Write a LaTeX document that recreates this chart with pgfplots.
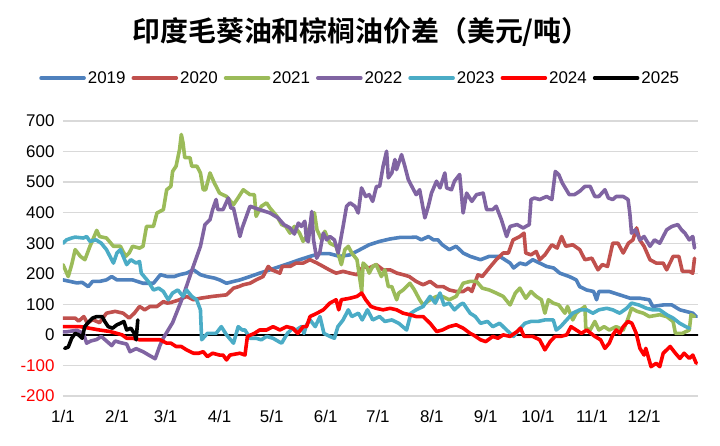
\documentclass[border=0pt]{standalone}
\usepackage{fontspec}
\setmainfont{Liberation Sans}
\newfontfamily\cjk{Noto Sans CJK SC}[BoldFont={Noto Sans CJK SC Bold}]
\usepackage{pgfplots}
\pgfplotsset{compat=1.18}
\definecolor{c19}{HTML}{4F81BD}
\definecolor{c20}{HTML}{C0504D}
\definecolor{c21}{HTML}{9BBB59}
\definecolor{c22}{HTML}{8064A2}
\definecolor{c23}{HTML}{4BACC6}
\definecolor{c24}{HTML}{FF0000}
\definecolor{c25}{HTML}{000000}
\definecolor{gridgray}{HTML}{D9D9D9}

\begin{document}
\begin{tikzpicture}
\path[use as bounding box] (-63bp,-50bp) rectangle (657bp,396bp);
\begin{axis}[
  at={(0,0)}, anchor=south west,
  scale only axis,
  width=635bp, height=275bp,
  xmin=0, xmax=365,
  ymin=-200, ymax=700,
  xtick={0,31,59,90,120,151,181,212,243,273,304,334},
  xticklabels={1/1,2/1,3/1,4/1,5/1,6/1,7/1,8/1,9/1,10/1,11/1,12/1},
  ytick={-200,-100,...,700},
  yticklabels={{\textcolor{red}{-200}},{\textcolor{red}{-100}},0,100,200,300,400,500,600,700},
  ymajorgrids=true,
  grid style={gridgray, line width=1.3bp},
  axis line style={draw=none},
  tick style={draw=none},
  tick label style={font=\fontsize{17}{20}\selectfont},
  xticklabel style={yshift=-11bp},
  yticklabel style={xshift=-5bp},
  legend columns=7,
  legend style={at={(0.468,1.156)}, anchor=center, draw=none, fill=none,
    font=\fontsize{17}{20}\selectfont,
    /tikz/every even column/.append style={column sep=4bp}},
  legend image code/.code={\draw[#1] (0bp,0bp) -- (43bp,0bp);},
  every axis plot/.append style={line width=3.6bp, line join=round, line cap=round},
]
\addplot[black, line width=1.5bp, forget plot] coordinates {(0,0) (365,0)};

% 2019
\addplot[c19] coordinates {
(0,180)(4,175)(8,170)(11,172)(14.5,158)(17,175)(21,175)(25,180)(28,191)(31,180)(34.6,180)(40,180)(46,169)(52,169)(56,197)(60,191)(64,191)(67,197)(71,202)(75,213)(79,197)(82.6,191)(87,186)(90,180)(94,169)(98,175)(101.7,180)(107.5,191)(113,202)(119,213)(124.7,224)(130.5,235)(136,246)(142,257)(147.7,266)(153,266)(159,257)(165,262)(170.7,279)(176,295)(182,306)(188,314)(193.7,319)(199,319)(203,320)(206,311)(210,322)(213,311)(215.5,311)(218,295)(222,279)(226,290)(230,268)(234,257)(240,246)(245,257)(251,257)(257,235)(259,219)(262.6,235)(266,230)(270,246)(274,235)(278,224)(282,219)(285.6,202)(291,191)(295,180)(297,158)(301,147)(305,142)(306.7,115)(308,142)(314,142)(320,131)(326,120)(331.6,120)(337,115)(339,93)(345,98)(350,98)(354.6,82)(358,77)(362,71)(364,60)
};
\addlegendentry{2019}

% 2020
\addplot[c20] coordinates {
(0,55)(4,55)(7,55)(9,45)(12,60)(14,38)(17,50)(21,40)(25,71)(30,77)(34.6,71)(38,55)(41,71)(44,93)(47,82)(50,93)(54,93)(57.7,109)(60,104)(62,106)(67,115)(71,126)(75,115)(79,120)(86,126)(94,131)(98,153)(101,158)(103.6,164)(107.5,169)(111,180)(115,191)(118,224)(120,213)(124.7,202)(126,224)(130.5,224)(134,235)(138,235)(142,246)(146,235)(149.6,224)(153,213)(157,202)(161,208)(165,202)(169,197)(172.6,224)(176,219)(180,230)(184,213)(188,213)(192,202)(195.5,197)(199,191)(203,175)(207,164)(211,175)(215,158)(218.6,158)(222,147)(226,142)(230,142)(233,153)(235,142)(238.5,197)(241,191)(245,219)(249,246)(253,268)(256,268)(258.7,311)(262.6,322)(265,333)(266,268)(269,262)(272,273)(274,246)(277,262)(281,295)(284,284)(286.6,322)(289,290)(293,295)(297,279)(300,246)(304,251)(307.5,213)(310,230)(313,224)(316,300)(319,300)(322,268)(325,300)(327.6,311)(329.7,350)(331.5,311)(334,290)(337.4,246)(341,235)(345,235)(347,213)(350.7,257)(354,257)(356,208)(360,208)(362,202)(363,251)
};
\addlegendentry{2020}

% 2021
\addplot[c21] coordinates {
(0,230)(3,191)(5,230)(7,279)(10,257)(12.6,246)(15.5,290)(19.4,342)(21,322)(25,317)(29,290)(33,290)(36,257)(38,268)(40,290)(44,284)(46,290)(48,355)(52,355)(54,399)(57.7,410)(59.6,475)(62,486)(63,535)(65,552)(67,607)(68,656)(69,628)(70,580)(73,580)(74,552)(77,552)(79,530)(80.6,475)(82,475)(84.5,530)(87,497)(90,464)(94,453)(98,426)(100,443)(103.6,475)(107.5,459)(110,459)(111,388)(114,421)(117,432)(119,415)(123,388)(125.7,361)(128,355)(130.5,333)(133,355)(136,333)(138,306)(140,322)(143,377)(144.5,400)(146,344)(148.7,311)(150.5,339)(153.4,300)(157,290)(160,230)(162,279)(164,290)(166,268)(169,246)(171.7,142)(172.5,235)(174.5,224)(176,202)(178,224)(180,230)(183,191)(185,213)(187,158)(189,158)(191.8,115)(193,137)(195.5,147)(199.4,169)(202,147)(205,115)(207,98)(211,115)(214.8,126)(218,126)(222,115)(226,126)(230,169)(234,175)(237.7,175)(241,153)(245,147)(249,137)(253,126)(257,98)(260,137)(262.6,153)(266,120)(269,142)(272,126)(275,115)(277,71)(279,115)(281.8,104)(285,98)(288.5,71)(290,93)(293,49)(295,71)(300,93)(300.5,22)(303,16)(305.7,44)(308,16)(311,27)(314,16)(318,27)(322,16)(324.5,49)(326.8,87)(330,77)(333.6,71)(337,60)(343,66)(347,60)(350.7,44)(352,5)(356,5)(360,16)(361,66)(363,60)
};
\addlegendentry{2021}

% 2022
\addplot[c22] coordinates {
(0,10)(2,10)(8,15)(11.7,5)(13.6,-27)(16,-20)(19.4,-15)(22,-5)(25,-20)(28,-35)(30,-20)(32.8,-25)(36.6,-30)(38.5,-55)(42,-45)(46,-55)(49,-65)(53,-78)(55.7,-35)(57.7,-10)(63,40)(69,126)(74,210)(79,290)(81.6,361)(84.5,377)(86,410)(88,443)(89,410)(92,410)(95,448)(96.5,415)(98,415)(101.7,322)(103,350)(107.5,421)(113,410)(119,399)(123.6,383)(127,361)(130.5,350)(133,330)(135.3,366)(137,355)(139,372)(140,311)(141,305)(143,404)(144,311)(145.8,251)(147.6,270)(149.6,333)(151.5,311)(153.4,322)(156,311)(158.2,268)(161,355)(163,421)(165,432)(167.8,421)(169.7,399)(171.6,481)(174,453)(176,459)(178,437)(180.2,486)(182,486)(184,552)(186,601)(187,514)(189,530)(190.8,574)(191.7,541)(194.6,590)(196.5,552)(198.5,508)(200.5,486)(203,459)(205,475)(208,383)(210,421)(211.8,464)(214.7,503)(216.7,481)(219.5,530)(220.5,481)(223.3,475)(225,503)(228,525)(230,399)(232,464)(235,437)(237.7,459)(241.5,464)(243.5,410)(247,410)(249,421)(252,377)(255,322)(257,355)(261,361)(264.5,350)(268,361)(269,443)(271,448)(274,443)(278,453)(281,443)(283,535)(285,524)(287,497)(291,459)(294,459)(297,470)(300,486)(303,486)(305.7,453)(308,453)(311.5,475)(313.5,448)(316,443)(318,453)(322,453)(324.8,443)(325.8,399)(326.8,333)(329,344)(331.6,311)(334,322)(337.4,290)(340,311)(343,300)(345,322)(347,344)(350,355)(353.4,361)(355.5,344)(357.5,333)(360,311)(362,322)(363,284)
};
\addlegendentry{2022}

% 2023
\addplot[c23] coordinates {
(0,300)(2,311)(5,317)(7,320)(11.7,317)(13.6,322)(15.5,306)(19,311)(22,300)(25,279)(29,235)(31,268)(33,279)(36.6,230)(39,246)(42,235)(44,240)(45,202)(49,175)(52,147)(55,153)(57.7,142)(60.5,115)(63,137)(66,147)(69,126)(71,147)(74,126)(76.8,115)(79,82)(79.7,-16)(83,5)(86,5)(88,5)(91,27)(94,0)(98,-27)(100.7,27)(103,16)(104.6,16)(107.5,-11)(111,-11)(114,-16)(117,-5)(120.7,-11)(124,-22)(125.7,-27)(129,5)(132,22)(134,16)(137,27)(138.5,5)(140,33)(142,49)(145,27)(147.7,60)(150,5)(153.4,-5)(156,-11)(158,27)(161,49)(164,82)(166,60)(169.8,71)(172,49)(175,82)(178,49)(182,60)(185,44)(189,49)(193,38)(197.5,16)(200,71)(203,82)(207,93)(211,126)(214,104)(216.7,137)(219,98)(222,104)(225,82)(228,98)(230,104)(234,71)(237,60)(240,38)(244,44)(247,27)(251,38)(255,16)(259,-5)(262,16)(265.5,38)(269,44)(273,44)(277,49)(281.8,49)(283.5,16)(286,27)(289.5,49)(293,71)(297,82)(301,82)(304.6,71)(308,82)(312.5,87)(316,82)(320,71)(324,87)(326.8,104)(331,98)(335.4,87)(339,82)(343,82)(347,66)(350.7,55)(354.5,38)(358,27)(360,22)
};
\addlegendentry{2023}

% 2024
\addplot[c24] coordinates {
(0,27)(5,27)(10,27)(15,22)(21,16)(27,11)(31,5)(34,0)(36.6,-11)(40,-11)(44,-16)(50,-16)(55.7,-16)(59.6,-27)(62,-27)(65,-38)(68,-38)(71,-49)(75,-60)(78,-60)(80.6,-55)(83,-71)(86,-60)(90,-66)(92,-66)(94,-82)(96,-66)(101.7,-60)(104.6,-66)(106,-5)(110,5)(113,16)(117,16)(120.7,27)(124.7,16)(128.5,27)(132,22)(135,5)(138,27)(140,27)(142,60)(146,71)(149.6,82)(153.4,104)(157,115)(158.5,82)(160,115)(165,120)(169,126)(171.7,137)(174,115)(177,93)(180,87)(184,82)(188,87)(191.8,82)(195.5,71)(199.4,66)(203,60)(207,60)(211,38)(214.8,11)(218,16)(222,27)(226,33)(230,22)(234,5)(235.8,0)(240,-16)(243,-22)(247,-5)(250,-11)(253,0)(257,-5)(261,11)(263,22)(265,-5)(270,-5)(274,-16)(277,-49)(280,-22)(282.8,-5)(286,-5)(289.5,0)(292,27)(295,16)(298,5)(301,16)(305.7,-5)(309,-16)(311.5,-44)(314,-27)(316,0)(318,16)(320,5)(322,27)(324.8,44)(327,38)(329.5,5)(331.6,-44)(334,-66)(335,-44)(338,-104)(341,-93)(343,-104)(345,-60)(349,-38)(352,-60)(354.6,-77)(357,-60)(360,-77)(362,-66)(364,-93)
};
\addlegendentry{2024}

% 2025
\addplot[c25] coordinates {
(1,-44)(3,-40)(5,-11)(7,5)(9,0)(11,-11)(12.5,27)(15,44)(17,55)(19.4,60)(22.5,60)(24,44)(26,27)(28.5,22)(31,33)(33,38)(35,44)(36.6,16)(39,22)(41,5)(42,-16)(43,49)
};
\addlegendentry{2025}
\end{axis}
\node[font=\cjk\bfseries\fontsize{28}{32}\selectfont] at (298bp,364bp) {印度毛葵油和棕榈油价差（美元/吨）};
\end{tikzpicture}
\end{document}
